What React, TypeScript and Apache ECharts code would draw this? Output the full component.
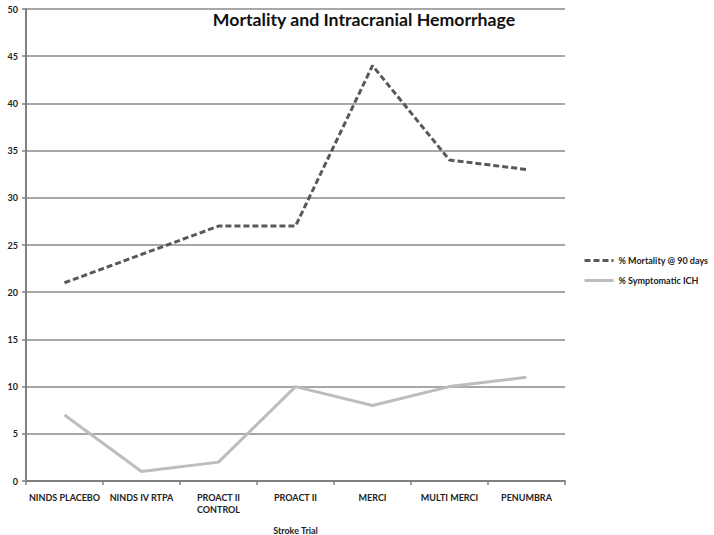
import React, { useEffect, useRef } from "react";
import * as echarts from "echarts";

const categories = [
  "NINDS PLACEBO",
  "NINDS IV RTPA",
  "PROACT II CONTROL",
  "PROACT II",
  "MERCI",
  "MULTI MERCI",
  "PENUMBRA",
];
const mortality = [21, 24, 27, 27, 44, 34, 33];
const ich = [7, 1, 2, 10, 8, 10, 11];

const FONT = "Lato, 'Open Sans', sans-serif";

export default function App() {
  const ref = useRef<HTMLDivElement>(null);
  useEffect(() => {
    if (!ref.current) return;
    const chart = echarts.init(ref.current, null, { renderer: "svg" });
    chart.setOption({
      animation: false,
      backgroundColor: "#ffffff",
      title: {
        text: "Mortality and Intracranial Hemorrhage",
        left: 359,
        top: 5,
        textAlign: "center",
        textStyle: { fontFamily: FONT, fontSize: 17.7, fontWeight: "bold", color: "#111" },
      },
      legend: {
        orient: "vertical",
        left: 578,
        top: 251,
        itemWidth: 29,
        itemHeight: 10,
        itemGap: 11,
        itemStyle: { opacity: 0 },
        lineStyle: { width: 3 },
        textStyle: { fontFamily: FONT, fontSize: 9, fontWeight: "bold", color: "#222" },
        data: ["% Mortality @ 90 days", "% Symptomatic ICH"],
      },
      grid: { left: 26, right: 149, top: 9, bottom: 54, outerBoundsMode: "none", containLabel: false },
      xAxis: {
        type: "category",
        data: categories,
        boundaryGap: true,
        name: "Stroke Trial",
        nameLocation: "middle",
        nameGap: 45,
        nameTextStyle: { fontFamily: FONT, fontSize: 9, fontWeight: "bold", color: "#222" },
        axisLine: { lineStyle: { color: "#808080", width: 2 } },
        axisTick: { show: true, length: 4, lineStyle: { color: "#808080", width: 1.5 } },
        axisLabel: {
          interval: 0,
          fontFamily: FONT,
          fontSize: 9,
          fontWeight: "bold",
          color: "#222",
          margin: 10,
          lineHeight: 12,
          formatter: (v: string) => (v === "PROACT II CONTROL" ? "PROACT II\nCONTROL" : v),
        },
      },
      yAxis: {
        type: "value",
        min: 0,
        max: 50,
        interval: 5,
        axisLine: { show: true, lineStyle: { color: "#808080", width: 2 } },
        axisTick: { show: true, length: 4, lineStyle: { color: "#808080", width: 1.5 } },
        axisLabel: { fontFamily: FONT, fontSize: 9, fontWeight: "bold", color: "#222", margin: 8 },
        splitLine: { show: true, lineStyle: { color: "#8a8a8a", width: 1.5 } },
      },
      series: [
        {
          name: "% Mortality @ 90 days",
          type: "line",
          data: mortality,
          symbol: "none",
          lineStyle: { color: "#595959", width: 3, type: [6, 3] },
          itemStyle: { color: "#595959" },
        },
        {
          name: "% Symptomatic ICH",
          type: "line",
          data: ich,
          symbol: "none",
          lineStyle: { color: "#bdbdbd", width: 3 },
          itemStyle: { color: "#bdbdbd" },
        },
      ],
    });
    return () => chart.dispose();
  }, []);
  return <div ref={ref} style={{ width: 714, height: 535, position: "absolute", left: 0, top: 0 }} />;
}
